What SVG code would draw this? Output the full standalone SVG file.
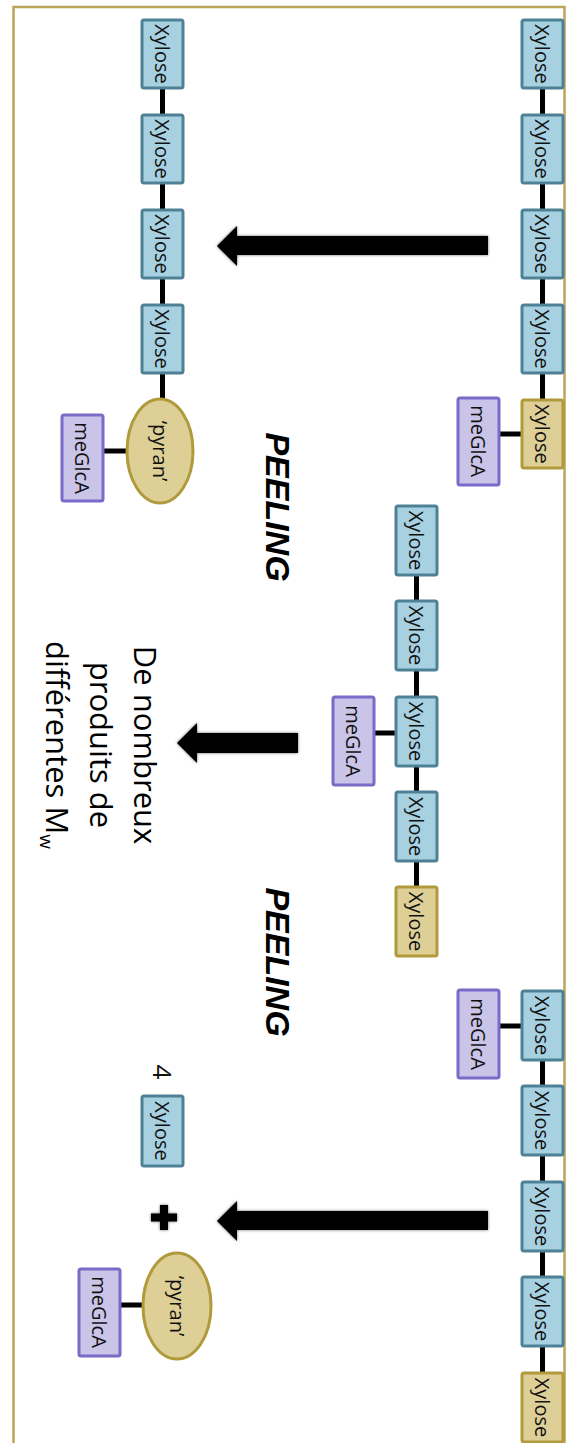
<svg xmlns="http://www.w3.org/2000/svg" width="566" height="1443" viewBox="0 0 566 1443">
<style>
.xyl{fill:#A7D0E0;stroke:#4E8196;stroke-width:3}
.gold{fill:#DDCF96;stroke:#B09A3C;stroke-width:3}
.me{fill:#C9C4E8;stroke:#7D69C7;stroke-width:3}
.lbl{font-family:"Open Sans","Liberation Sans",sans-serif;font-size:20px;fill:#111;text-anchor:middle;dominant-baseline:central}
.lnk{stroke:#000;stroke-width:5;fill:none}
.arr{fill:#000}
.peel{font-family:"Liberation Sans",sans-serif;font-size:34px;font-weight:bold;font-style:italic;fill:#000;text-anchor:middle;dominant-baseline:central}
.big{font-family:"Open Sans","Liberation Sans",sans-serif;font-size:31px;fill:#000;text-anchor:middle}
</style>
<defs>
<filter id="sh" x="-10%" y="-30%" width="120%" height="160%"><feGaussianBlur in="SourceAlpha" stdDeviation="1.5"/><feComponentTransfer><feFuncA type="linear" slope="0.6"/></feComponentTransfer><feMerge><feMergeNode/><feMergeNode in="SourceGraphic"/></feMerge></filter>
</defs>
<rect x="13.5" y="7" width="551" height="1460" fill="#fff" stroke="#BBA55A" stroke-width="2.5"/>

<g id="connectors">
<line class="lnk" x1="542.5" y1="50" x2="542.5" y2="430"/>
<line class="lnk" x1="499" y1="434" x2="522" y2="434"/>
<line class="lnk" x1="162.5" y1="50" x2="162.5" y2="410"/>
<line class="lnk" x1="103" y1="451" x2="127" y2="451"/>
<line class="lnk" x1="416.5" y1="540" x2="416.5" y2="920"/>
<line class="lnk" x1="374" y1="733" x2="396" y2="733"/>
<line class="lnk" x1="542.5" y1="1025" x2="542.5" y2="1405"/>
<line class="lnk" x1="499" y1="1026" x2="522" y2="1026"/>
<line class="lnk" x1="121" y1="1305" x2="142" y2="1305"/>
<polygon class="arr" filter="url(#sh)" points="488,236 237,236 237,226 217,246 237,266 237,255 488,255"/>
<polygon class="arr" filter="url(#sh)" points="298,733 197,733 197,723 177,743 197,763 197,753 298,753"/>
<polygon class="arr" filter="url(#sh)" points="488,1211 237,1211 237,1201 217,1221 237,1241 237,1230 488,1230"/>
</g>

<g id="chain1">
<g id="c1x1"><rect class="xyl" x="522" y="20" width="41" height="68" rx="2"/><text class="lbl" transform="translate(542.5,54) rotate(90)">Xylose</text></g>
<g id="c1x2"><rect class="xyl" x="522" y="115" width="41" height="68" rx="2"/><text class="lbl" transform="translate(542.5,149) rotate(90)">Xylose</text></g>
<g id="c1x3"><rect class="xyl" x="522" y="210" width="41" height="68" rx="2"/><text class="lbl" transform="translate(542.5,244) rotate(90)">Xylose</text></g>
<g id="c1x4"><rect class="xyl" x="522" y="305" width="41" height="68" rx="2"/><text class="lbl" transform="translate(542.5,339) rotate(90)">Xylose</text></g>
<g id="c1x5"><rect class="gold" x="522" y="400" width="41" height="68" rx="2"/><text class="lbl" transform="translate(542.5,434) rotate(90)">Xylose</text></g>
<g id="c1me"><rect class="me" x="458" y="398" width="41" height="87" rx="2"/><text class="lbl" transform="translate(478.5,441) rotate(90)">meGlcA</text></g>
</g>

<g id="chain2">
<g id="c2x1"><rect class="xyl" x="142" y="20" width="41" height="68" rx="2"/><text class="lbl" transform="translate(162.5,54) rotate(90)">Xylose</text></g>
<g id="c2x2"><rect class="xyl" x="142" y="115" width="41" height="68" rx="2"/><text class="lbl" transform="translate(162.5,149) rotate(90)">Xylose</text></g>
<g id="c2x3"><rect class="xyl" x="142" y="210" width="41" height="68" rx="2"/><text class="lbl" transform="translate(162.5,244) rotate(90)">Xylose</text></g>
<g id="c2x4"><rect class="xyl" x="142" y="305" width="41" height="68" rx="2"/><text class="lbl" transform="translate(162.5,339) rotate(90)">Xylose</text></g>
<g id="c2py"><ellipse class="gold" cx="160" cy="451" rx="33" ry="52"/><text class="lbl" transform="translate(160,451) rotate(90)">‘pyran’</text></g>
<g id="c2me"><rect class="me" x="62" y="415" width="41" height="86" rx="2"/><text class="lbl" transform="translate(82.5,458) rotate(90)">meGlcA</text></g>
</g>

<g id="peel1"><text class="peel" transform="translate(278,507) rotate(90)">PEELING</text></g>

<g id="chain3">
<g id="c3x1"><rect class="xyl" x="396" y="506" width="41" height="69" rx="2"/><text class="lbl" transform="translate(416.5,540.5) rotate(90)">Xylose</text></g>
<g id="c3x2"><rect class="xyl" x="396" y="601" width="41" height="69" rx="2"/><text class="lbl" transform="translate(416.5,635.5) rotate(90)">Xylose</text></g>
<g id="c3x3"><rect class="xyl" x="396" y="697" width="41" height="69" rx="2"/><text class="lbl" transform="translate(416.5,731.5) rotate(90)">Xylose</text></g>
<g id="c3x4"><rect class="xyl" x="396" y="792" width="41" height="69" rx="2"/><text class="lbl" transform="translate(416.5,826.5) rotate(90)">Xylose</text></g>
<g id="c3x5"><rect class="gold" x="396" y="887" width="41" height="69" rx="2"/><text class="lbl" transform="translate(416.5,921.5) rotate(90)">Xylose</text></g>
<g id="c3me"><rect class="me" x="333" y="697" width="41" height="88" rx="2"/><text class="lbl" transform="translate(353.5,741) rotate(90)">meGlcA</text></g>
</g>

<g id="products">
<text class="big" transform="translate(134,745) rotate(90)">De nombreux</text>
<text class="big" transform="translate(90,745) rotate(90)">produits de</text>
<text class="big" transform="translate(46,745) rotate(90)">différentes M<tspan font-size="19" dy="6">w</tspan></text>
</g>

<g id="peel2"><text class="peel" transform="translate(278,962) rotate(90)">PEELING</text></g>

<g id="chain4">
<g id="c4me"><rect class="me" x="458" y="990" width="41" height="88" rx="2"/><text class="lbl" transform="translate(478.5,1034) rotate(90)">meGlcA</text></g>
<g id="c4x1"><rect class="xyl" x="522" y="991" width="41" height="69" rx="2"/><text class="lbl" transform="translate(542.5,1025.5) rotate(90)">Xylose</text></g>
<g id="c4x2"><rect class="xyl" x="522" y="1086" width="41" height="69" rx="2"/><text class="lbl" transform="translate(542.5,1120.5) rotate(90)">Xylose</text></g>
<g id="c4x3"><rect class="xyl" x="522" y="1182" width="41" height="69" rx="2"/><text class="lbl" transform="translate(542.5,1216.5) rotate(90)">Xylose</text></g>
<g id="c4x4"><rect class="xyl" x="522" y="1277" width="41" height="69" rx="2"/><text class="lbl" transform="translate(542.5,1311.5) rotate(90)">Xylose</text></g>
<g id="c4x5"><rect class="gold" x="522" y="1373" width="41" height="69" rx="2"/><text class="lbl" transform="translate(542.5,1407.5) rotate(90)">Xylose</text></g>
</g>

<g id="result">
<text class="lbl" transform="translate(163,1072) rotate(90)" style="font-size:26px">4</text>
<g id="rx"><rect class="xyl" x="142" y="1096" width="41" height="70" rx="2"/><text class="lbl" transform="translate(162.5,1131) rotate(90)">Xylose</text></g>
<g id="plus"><path d="M160,1205 h8 v8.5 h9 v8 h-9 v8.5 h-8 v-8.5 h-9 v-8 h9 z" fill="#000" filter="url(#sh)"/></g>
<g id="rpy"><ellipse class="gold" cx="177" cy="1306" rx="34" ry="53"/><text class="lbl" transform="translate(177,1306) rotate(90)">‘pyran’</text></g>
<g id="rme"><rect class="me" x="79" y="1269" width="41" height="87" rx="2"/><text class="lbl" transform="translate(99.5,1312) rotate(90)">meGlcA</text></g>
</g>
</svg>
